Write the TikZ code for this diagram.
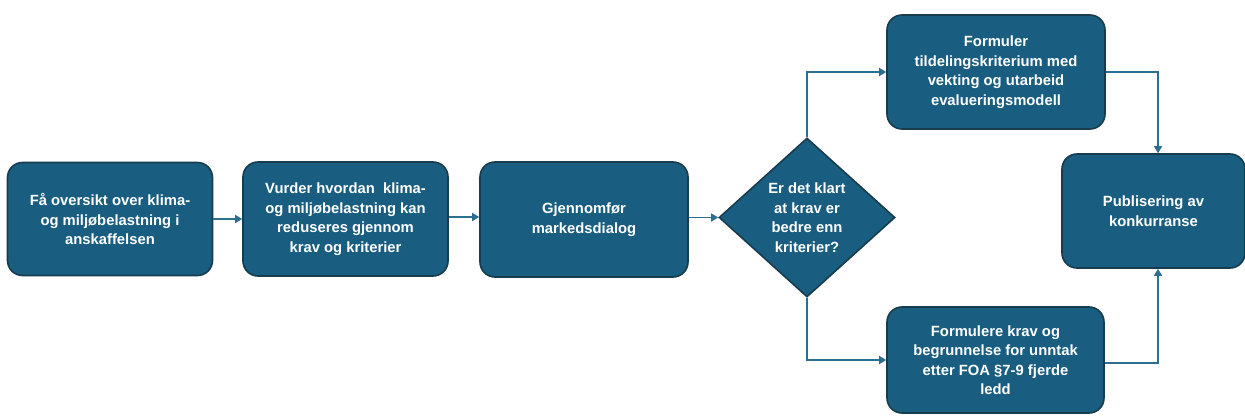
\documentclass[tikz,border=0pt]{standalone}
\usepackage{fontspec}
\setmainfont{Liberation Sans}
\usetikzlibrary{shapes.geometric,arrows.meta}
\definecolor{boxfill}{HTML}{195E80}
\definecolor{boxline}{HTML}{173C4D}
\definecolor{arrowc}{HTML}{2A6E90}
\tikzset{
  stepbox/.style={draw=boxline, line width=1.6pt, fill=boxfill, rounded corners=15pt,
    text=white, font=\bfseries\fontsize{14.8}{19.5}\selectfont, align=center, inner sep=0pt},
  decide/.style={draw=boxline, line width=1.6pt, fill=boxfill, diamond, aspect=1.1,
    text=white, font=\bfseries\fontsize{14.8}{19.5}\selectfont, align=center, inner sep=0pt},
  conn/.style={draw=arrowc, line width=1.4pt, -{Triangle[length=7pt,width=8pt]}}
}
\begin{document}
\begin{tikzpicture}[x=1pt,y=-1pt]
\useasboundingbox (0,0) rectangle (1245,417);
\fill[white] (0,0) rectangle (1245,417);
\node[stepbox, minimum width=205pt, minimum height=113pt] (b1) at (110,219) {Få oversikt over klima-\\og miljøbelastning i\\anskaffelsen};
\node[stepbox, minimum width=205pt, minimum height=114pt] (b2) at (345.5,219) {Vurder hvordan\ \ klima-\\og miljøbelastning kan\\reduseres gjennom\\krav og kriterier};
\node[stepbox, minimum width=208pt, minimum height=115pt] (b3) at (584,219.5) {Gjennomfør\\markedsdialog};
\node[decide, minimum width=176pt, minimum height=159pt] (d) at (807,217.5) {Er det klart\\at krav er\\bedre enn\\kriterier?};
\node[stepbox, minimum width=218pt, minimum height=114pt] (top) at (996,72) {Formuler\\tildelingskriterium med\\vekting og utarbeid\\evalueringsmodell};
\node[stepbox, minimum width=217pt, minimum height=106pt] (bot) at (995.5,360) {Formulere krav og\\begrunnelse for unntak\\etter FOA §7-9 fjerde\\ledd};
\node[stepbox, minimum width=183pt, minimum height=114pt] (pub) at (1153.5,211) {Publisering av\\konkurranse};
\coordinate (tr) at (1158,72);
\coordinate (br) at (1158,363);
\draw[conn] (b1.east |- 0,219) -- (b2.west |- 0,219);
\draw[conn] (b2.east |- 0,217) -- (b3.west |- 0,217);
\draw[conn] (b3.east |- d.west) -- (d.west);
\draw[conn] (d.north) |- (top.west);
\draw[conn] (d.south) |- (bot.west);
\draw[conn] (top.east) -| (pub.north -| tr);
\draw[conn] (bot.east |- br) -| (pub.south -| br);
\end{tikzpicture}
\end{document}
